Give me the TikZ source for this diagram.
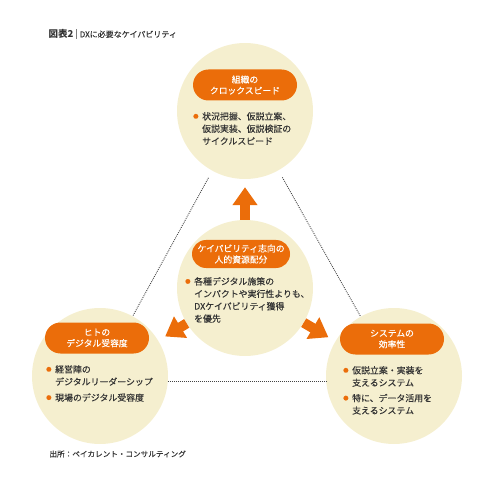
\documentclass[tikz,border=0pt]{standalone}
\usepackage{fontspec}
\setmainfont{Noto Sans CJK JP}[UprightFeatures={FakeBold=0.15}]
\usepackage{xcolor}
\usepackage{graphicx}
\usepackage{tikz}
\usetikzlibrary{arrows.meta}
\definecolor{dxOrange}{HTML}{EB6D0A}
\definecolor{capCream}{HTML}{F5EFCF}
\definecolor{dotGrey}{HTML}{444444}
\definecolor{noteGrey}{HTML}{333333}
\newcommand{\capdot}{\makebox[9pt][l]{\textcolor{dxOrange}{\raisebox{0.15em}{\scalebox{0.6}{●}}}}}
\newcommand{\capgap}{\hspace*{9pt}}
\tikzset{
  capcircle/.style={circle, fill=capCream, minimum size=136pt, inner sep=0pt},
  cappill/.style={rectangle, rounded corners=15.5pt, fill=dxOrange, text=white, align=center, font=\fontsize{8.8}{11}\selectfont, minimum width=104pt, minimum height=31pt, inner sep=0pt},
  capnote/.style={anchor=north west, align=left, text=noteGrey, font=\fontsize{8.9}{12.4}\selectfont, inner sep=0pt},
  dotlink/.style={draw=dotGrey, line width=0.9pt, dash pattern=on 0.9pt off 1.1pt},
  pusharrow/.style={draw=dxOrange, line width=10pt, -{Triangle[length=18pt,width=24pt]}, shorten >=8pt},
}
\begin{document}
\begin{tikzpicture}[x=1pt,y=1pt]
  \useasboundingbox (0,0) rectangle (500,493);
  \node[anchor=west, text=noteGrey, font=\fontsize{8}{10}\selectfont] (title) at (45,459) {{\fontsize{9.5}{10}\selectfont\bfseries 図表2}\hspace{3pt}\textcolor{gray}{\rule[-1.5pt]{0.5pt}{9.5pt}}\hspace{3pt}DXに必要なケイパビリティ};

  \node[capcircle] (org) at (245,382) {};
  \node[capcircle] (alloc) at (245,205) {};
  \node[capcircle] (people) at (100,117) {};
  \node[capcircle] (system) at (394,117) {};

  \draw[dotlink, shorten <=8pt] (org) -- (people);
  \draw[dotlink, shorten <=8pt] (org) -- (system);
  \draw[dotlink] (people.-5) -- (system.185);

  \node[cappill] (orgpill) at (245,408) {組織の\\クロックスピード};
  \node[capnote] (orgnote) at (193,381) {\capdot 状況把握、仮説立案、\\\capgap 仮説実装、仮説検証の\\\capgap サイクルスピード};

  \node[cappill, minimum width=98pt, minimum height=28pt, rounded corners=14pt] (allocpill) at (241,239) {ケイパビリティ志向の\\人的資源配分};
  \node[capnote] (allocnote) at (185,216) {\capdot 各種デジタル施策の\\\capgap インパクトや実行性よりも、\\\capgap DXケイパビリティ獲得\\\capgap を優先};

  \node[cappill] (peoplepill) at (97,155) {ヒトの\\デジタル受容度};
  \node[capnote] (peoplenote) at (46,128) {\capdot 経営陣の\\\capgap デジタルリーダーシップ\\[3.5pt]\capdot 現場のデジタル受容度};

  \node[cappill] (systempill) at (392,154) {システムの\\効率性};
  \node[capnote] (systemnote) at (343,127) {\capdot 仮説立案・実装を\\\capgap 支えるシステム\\[3pt]\capdot 特に、データ活用を\\\capgap 支えるシステム};

  \draw[pusharrow] (alloc) -- (org);
  \draw[pusharrow] (alloc) -- (people);
  \draw[pusharrow] (alloc) -- (system);

  \node[anchor=west, text=noteGrey, font=\fontsize{7.6}{9}\selectfont] (source) at (46,39) {出所：ベイカレント・コンサルティング};
\end{tikzpicture}
\end{document}
